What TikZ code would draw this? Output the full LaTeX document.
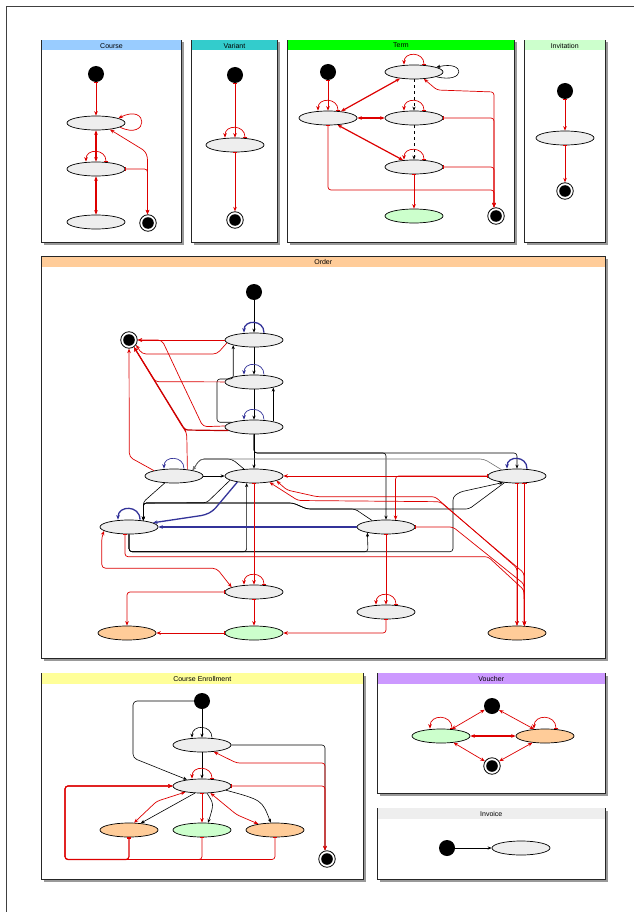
\documentclass[tikz,border=0pt]{standalone}
\usepackage{fontspec}
\setmainfont{Liberation Sans}
\usetikzlibrary{arrows.meta,shapes.geometric}

\definecolor{edgered}{RGB}{221,0,0}
\definecolor{edgeblue}{RGB}{51,51,153}
\definecolor{stfill}{RGB}{238,238,238}
\definecolor{okfill}{RGB}{204,255,204}
\definecolor{badfill}{RGB}{255,204,153}
\definecolor{hdcourse}{RGB}{153,204,255}
\definecolor{hdvariant}{RGB}{51,204,204}
\definecolor{hdterm}{RGB}{0,255,0}
\definecolor{hdinvite}{RGB}{204,255,204}
\definecolor{hdorder}{RGB}{255,204,153}
\definecolor{hdenrol}{RGB}{255,255,153}
\definecolor{hdvoucher}{RGB}{204,153,255}
\definecolor{hdinvoice}{RGB}{238,238,238}

\tikzset{
  hdr/.style={inner sep=0pt,font=\fontsize{7}{8}\selectfont},
  st/.style={ellipse,draw=black,line width=0.7pt,fill=stfill,minimum width=58pt,minimum height=14pt,inner sep=0pt},
  ok/.style={st,fill=okfill},
  bad/.style={st,fill=badfill},
  ini/.style={circle,fill=black,minimum size=16pt,inner sep=0pt},
  fin/.style={circle,draw=black,line width=0.8pt,fill=white,minimum size=16.5pt,inner sep=0pt,
    path picture={\fill[black] (path picture bounding box.center) circle (5.8pt);}},
  rarr/.style={draw=edgered,line width=0.7pt,-{Stealth[length=4.5pt,width=3.6pt]}},
  rtk/.style={draw=edgered,line width=0.7pt,{Bar[width=4.5pt]}-{Stealth[length=4.5pt,width=3.6pt]}},
  rboth/.style={draw=edgered,line width=0.7pt,{Stealth[length=4.5pt,width=3.6pt]}-{Stealth[length=4.5pt,width=3.6pt]}},
  barr/.style={draw=black,line width=0.6pt,-{Stealth[length=4pt,width=3.2pt]}},
  blarr/.style={draw=edgeblue,line width=0.7pt,-{Stealth[length=4.5pt,width=3.6pt]}},
  heavy/.style={line width=1.2pt},
}

% framed panel with shadow and coloured title band
\newcommand\umlpanel[7]{%
  \fill[black!40] (#1+2.5,#2+2.5) rectangle (#3+2.5,#4+2.5);
  \filldraw[fill=white,draw=black!85,line width=0.9pt] (#1,#2) rectangle (#3,#4);
  \fill[#5] (#1+0.45,#2+0.45) rectangle (#3-0.45,#2+10.5);
  \node[hdr] (#7) at ({(#1+#3)/2},#2+5.6) {#6};
}
% half-circle self transition on top of a state
\newcommand\toploop[3]{%
  \draw[#1] ([shift={(#3,0)}]#2.north) .. controls +(0,-1.33*#3) and +(0,-1.33*#3) .. ([shift={(-#3,0)}]#2.north);
}

\begin{document}
\begin{tikzpicture}[x=1pt,y=-1pt]
\useasboundingbox (0,0) rectangle (634,912);
\fill[white] (0,0) rectangle (634,912);
\draw[black!75,line width=0.8pt] (6.5,912) -- (6.5,6.5) -- (634,6.5);

% ---------- panels ----------
\umlpanel{41.5}{40}{181.5}{242.5}{hdcourse}{Course}{pCourse}
\umlpanel{191.5}{40}{277.5}{242.5}{hdvariant}{Variant}{pVariant}
\umlpanel{287.5}{40}{514.5}{242.5}{hdterm}{Term}{pTerm}
\umlpanel{524.5}{40}{605}{242.5}{hdinvite}{Invitation}{pInvite}
\umlpanel{41.5}{256.5}{605}{658.5}{hdorder}{Order}{pOrder}
\umlpanel{41.5}{673}{363}{879.5}{hdenrol}{Course Enrollment}{pEnrol}
\umlpanel{377.5}{673}{605}{793.5}{hdvoucher}{Voucher}{pVoucher}
\umlpanel{377.5}{808}{605}{879.5}{hdinvoice}{Invoice}{pInvoice}

% ---------- Course ----------
\node[ini] (cI) at (96,74) {};
\node[st] (cA) at (96,123) {};
\node[st] (cB) at (96,169) {};
\node[st] (cC) at (96,222) {};
\node[fin] (cF) at (148,223) {};
\draw[rtk] (cI) -- (cA);
\draw[rarr] (cA.-10) .. controls (149,141) and (149,103) .. (cA.12);
\draw[rboth,heavy] (cB) -- (cA);
\toploop{rtk}{cB}{10}
\draw[rboth,heavy] (cB) -- (cC);
\draw[rtk,rounded corners=3pt] (cB.east) -| ([xshift=-0.5]cF.north);
\draw[rboth,rounded corners=3pt] (cA.-25) -- (145,151) -- (147.5,157) -- ([xshift=-0.5]cF.north);

% ---------- Variant ----------
\node[ini] (vI) at (235,75) {};
\node[st] (vA) at (235,145) {};
\node[fin] (vF) at (235,220) {};
\draw[rtk] (vI) -- (vA);
\toploop{rtk}{vA}{10}
\draw[rtk] (vA) -- (vF);

% ---------- Term ----------
\node[ini] (tI) at (328,72) {};
\node[st] (tA) at (414,72) {};
\node[st] (tB) at (328,118) {};
\node[st] (tC) at (414,118) {};
\node[st] (tD) at (414,167) {};
\node[ok] (tG) at (414,216) {};
\node[fin] (tF) at (496,216) {};
\draw[rtk] (tI) -- (tB);
\toploop{rtk}{tB}{10}
\toploop{rtk}{tA}{10}
\draw[barr] (tA.-12) .. controls (466,84) and (466,60) .. (tA.12);
\draw[rboth,heavy] (tB.27) -- (tA.205);
\draw[barr,dashed] (tA) -- (tC);
\toploop{rtk}{tC}{10}
\draw[rboth,heavy] (tB) -- (tC);
\draw[barr,dashed] (tC) -- (tD);
\toploop{rtk}{tD}{10}
\draw[rboth,heavy] (tB.-36) -- (tD.148);
\draw[rtk] (tD) -- (tG);
\draw[rboth,rounded corners=3pt] (tA.-35) -- (437,90) -- (494,92) -- ([xshift=-2]tF.north);
\draw[rtk,rounded corners=3pt] (tC.east) -| ([xshift=-2]tF.north);
\draw[rtk,rounded corners=3pt] (tD.east) -| ([xshift=-2]tF.north);
\draw[rtk,rounded corners=3pt] (tB.south) |- (494,190) -- ([xshift=-2]tF.north);

% ---------- Invitation ----------
\node[ini] (iI) at (565,91) {};
\node[st] (iA) at (565,138) {};
\node[fin] (iF) at (565,191) {};
\draw[rtk] (iI) -- (iA);
\draw[rtk] (iA) -- (iF);

% ---------- Order ----------
\node[ini] (oI) at (254,292) {};
\node[st] (o1) at (254,340) {};
\node[st] (o2) at (254,382) {};
\node[st] (o3) at (254,427) {};
\node[fin] (oF) at (129,340) {};
\node[st] (oP) at (174,476) {};
\node[st] (oQ) at (254,476) {};
\node[st] (oV) at (517,476) {};
\node[st] (oR) at (129,527) {};
\node[st] (oW) at (386,527) {};
\node[st] (oS) at (254,592) {};
\node[st] (oX) at (386,612) {};
\node[bad] (oT) at (127,633) {};
\node[ok] (oU) at (254,633) {};
\node[bad] (oY) at (517,633) {};

% black transitions
\draw[barr] (oI) -- (o1);
\toploop{blarr,line width=1.3pt}{o1}{10}
\draw[barr] (o1) -- (o2);
\toploop{blarr}{o2}{10}
\draw[barr] (o2) -- (o3);
\toploop{blarr}{o3}{10}
\draw[barr,rounded corners=3pt] (o3.168) -| (217,379) -| (o1.-166);
\draw[barr] (o3.16) -- (o2.-16);
\draw[barr] (o3) -- (oQ);
\draw[barr,rounded corners=3pt] (o3.south) |- (517,453) -- (oV);
\draw[barr,rounded corners=3pt] (o3.south) |- (386,453) -- (oW);
\toploop{blarr,line width=1.3pt}{oV}{10}
\draw[barr] (oP) -- (oQ);
\toploop{blarr}{oP}{10}
\draw[barr,rounded corners=3pt] (oP.-143) -- (143.3,502) -- (oR.24);
\draw[barr,rounded corners=4pt] (oQ.145) -- (232,459) -- (200,459) -- (oP.17);
\draw[barr,draw=black!55,rounded corners=4pt] (oV.158) -- (484,459) -- (200,459) -- (oP.17);
\draw[barr,rounded corners=3pt] (oQ.-170) -- (206.7,502.7) -- (143.3,503) -- (oR.24);
\draw[barr,rounded corners=3pt] (oV.-152) -- (469,509) -- (307,509) -- (293,503) -- (143.3,503) -- (oR.24);
\draw[barr,rounded corners=3pt] (oW.155) -- (355,509) -- (307,509) -- (293,503) -- (143.3,503) -- (oR.24);
\draw[barr,rounded corners=3pt] (oR.south) |- (240,551.7) -| (oQ.-136);
\draw[barr,rounded corners=3pt] (oR.south) |- (368,551.7) -- (oW.-163);
\draw[barr,rounded corners=3pt] (oR.south) |- (453,551.7) -- (453,497) -- (460,492) -- (oV.-155);
% blue transitions
\draw[blarr,line width=1.3pt,rounded corners=4pt] (oQ.-160) -- (213,511) -- (205,515) -- (oR.10);
\draw[blarr,line width=1.3pt] (oW) -- (oR);
\toploop{blarr,line width=1.3pt}{oR}{11}
% red transitions
\draw[rtk] (oV) -- (oQ);
\draw[rtk,rounded corners=3pt] (oV.west) -| (oW.36);
\draw[rboth,rounded corners=3pt] (oQ.-12) -- (287,490) -- (317,496.7) -- (435,496.7) -- (517,568) -- (oY.north);
\draw[rboth,rounded corners=3pt] (oQ.-22) -- (298,500.5) -- (440,501.7) -- (524,573) -- (oY.44);
\draw[rtk] (oV.-90) -- (oY.north);
\draw[rtk] (oV.-44) -- (oY.44);
\draw[rtk,rounded corners=3pt] (oW.east) -- (453,527) -- (524,584) -- (oY.44);
\draw[rtk,rounded corners=3pt] ([xshift=-4]oR.south) |- (488,556.7) -- (524,590) -- (oY.44);
\draw[rtk] (oQ) -- (oS);
\toploop{rtk}{oS}{10}
\draw[rboth,rounded corners=4pt] (oR.-171) -- (101.7,537) -- (101.7,568.3) -- (216.7,568.3) -- (oS.168);
\draw[rtk,rounded corners=3pt] (oS.west) -| (oT.north);
\draw[rtk] (oS) -- (oU);
\draw[rtk] (oU) -- (oT);
\draw[rtk,rounded corners=3pt] (oX.south) |- (oU.east);
\draw[rtk] (oW) -- (oX);
\toploop{rtk}{oX}{10}
% red transitions into the final state
\draw[rarr] (o1) -- (oF);
\draw[rarr,rounded corners=4pt] (o1.-174) -- (217,354) -- (142,354) -- (oF.-35);
\draw[rarr,rounded corners=4pt] (o3.178) -- (203,426.7) -- (180,378.3) -- (162,340) -- (oF);
\draw[rarr,heavy,draw=edgered!85!black,rounded corners=3pt] (o3.-172) -- (185,430) -- (oF.-55);
\draw[rarr,rounded corners=3pt] (o2) -- (155.6,381.7) -- (oF.-55);
\draw[rarr,rounded corners=4pt] (oP.165) -- (129.3,457) -- (oF);
\draw[rarr,rounded corners=4pt] (oP.26) -- (186.7,432) -- (183.3,428.3) -- (oF.-55);

% ---------- Course Enrollment ----------
\node[ini] (eI) at (202,701) {};
\node[st] (e1) at (202,745) {};
\node[st] (e2) at (202,786) {};
\node[bad] (f1) at (129,830) {};
\node[ok] (f2) at (202,830) {};
\node[bad] (f3) at (275,830) {};
\node[fin] (eF) at (327,859) {};
\draw[barr] (eI) -- (e1);
\toploop{barr}{e1}{10}
\draw[barr,rounded corners=4pt] (eI) -| (133,758) -- (e2.157);
\draw[barr] (e1) -- (e2);
\toploop{rtk}{e2}{10}
\draw[barr,rounded corners=3pt] (e1.east) -| ([xshift=-2]eF.north);
\draw[rboth,rounded corners=3pt] (e1.-30) -- (236.7,763) -| ([xshift=-2]eF.north);
\draw[rtk,rounded corners=3pt] (e2.east) -| ([xshift=-2]eF.north);
\draw[barr] (e2.-135) -- (f1.30);
\draw[rboth,rounded corners=3pt] (e2.-160) -- (156.7,801.3) -- (f1.55);
\draw[barr] (e2.-55) .. controls (214,804) .. (f2.50);
\draw[rtk] (e2) -- (f2);
\draw[barr] (e2.-10) .. controls (262,800) .. (f3.120);
\draw[rboth,rounded corners=3pt] (e2.-40) -- (236.7,814.7) -- (f3.160);
\draw[rtk,heavy,rounded corners=3pt] (f1.south) |- (65,859.5) |- (e2.west);
\draw[rtk,rounded corners=3pt] (f2.south) |- (65,859.5) |- (e2.west);
\draw[rtk,rounded corners=3pt] (f3.south) |- (65,859.5) |- (e2.west);

% ---------- Voucher ----------
\node[ini] (uI) at (492,706) {};
\node[ok] (uG) at (441,736) {};
\node[bad] (uO) at (545,736) {};
\node[fin] (uF) at (492,766) {};
\draw[rboth] (uI.207) -- (uG.33);
\draw[rboth] (uI.-30) -- (uO.148);
\draw[rboth,heavy] (uG) -- (uO);
\draw[rboth] (uG.-28) -- (uF.146);
\draw[rboth] (uO.-152) -- (uF.34);
\toploop{rtk}{uG}{11}
\toploop{rtk}{uO}{11}

% ---------- Invoice ----------
\node[ini] (nI) at (447,848) {};
\node[st] (nE) at (521,848) {};
\draw[barr] (nI) -- (nE);
\end{tikzpicture}
\end{document}
